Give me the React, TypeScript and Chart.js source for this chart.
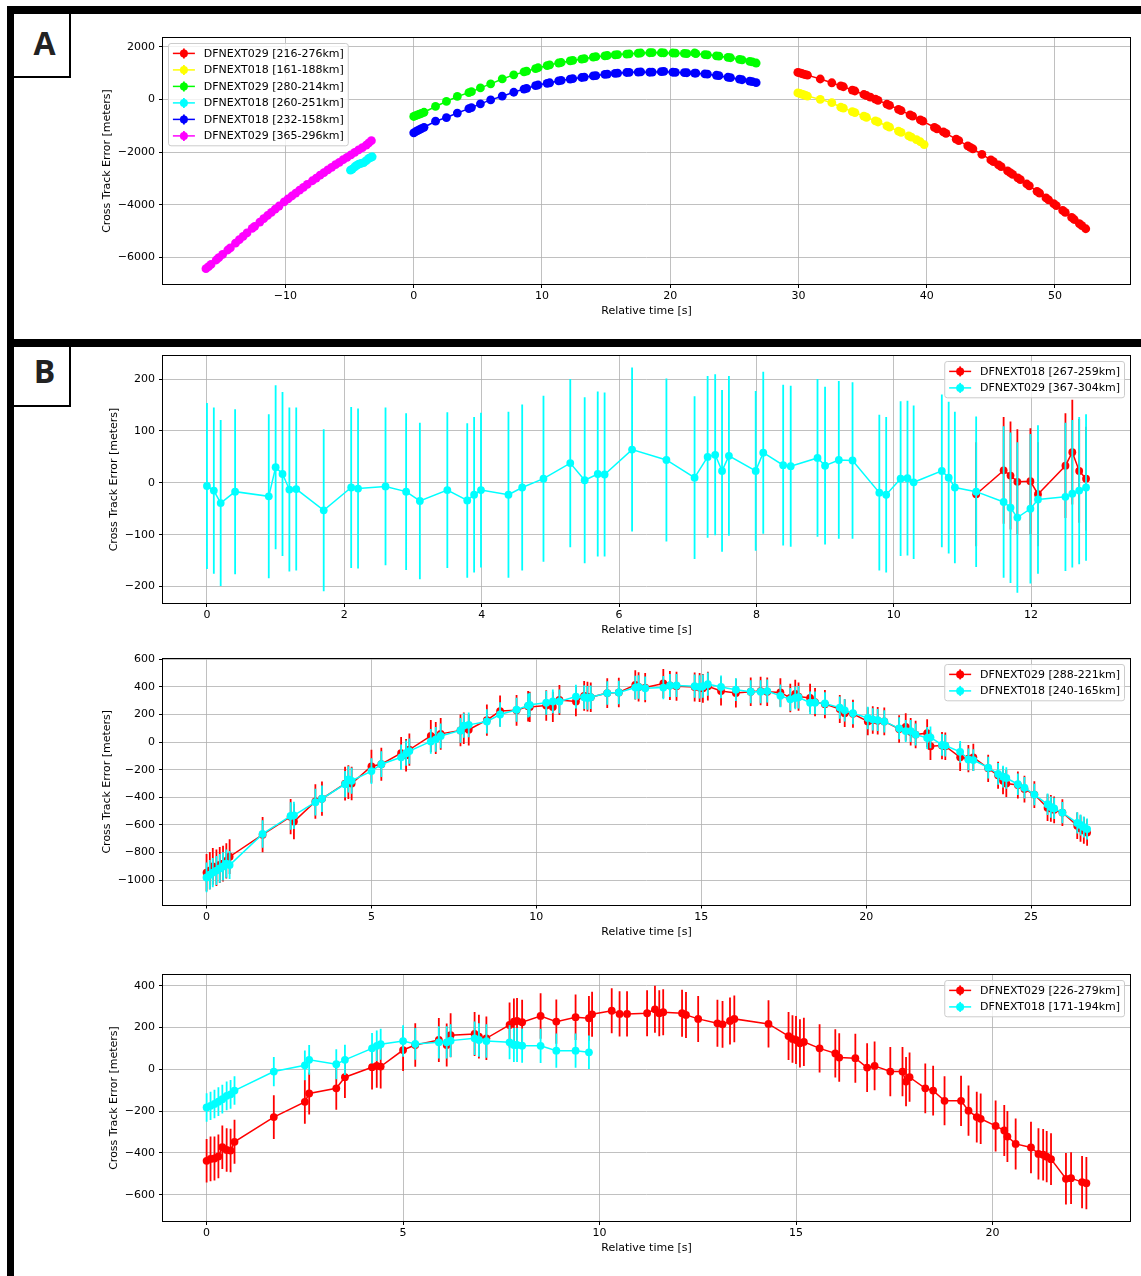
import React, { useEffect, useRef } from 'react';
import { Chart, registerables } from 'chart.js';

Chart.register(...registerables);

const FAMILY = '"DejaVu Sans", "Liberation Sans", sans-serif';
const FS = 11;

// ---------------- Panel A ----------------
const A_X_TICKS = [-10, 0, 10, 20, 30, 40, 50];
const A_Y_TICKS = [-6000, -4000, -2000, 0, 2000];

const A_RED_T = [29.95, 30.1, 30.25, 30.4, 30.55, 30.7, 31.7, 32.6, 33.3, 33.5, 34.2, 34.4, 35.1, 35.3, 35.6, 36.0, 36.2, 36.9, 37.1, 37.8, 38.0, 38.7, 38.9, 39.5, 39.7, 40.6, 40.8, 41.3, 41.5, 42.3, 42.5, 43.2, 43.4, 43.6, 44.3, 45.0, 45.2, 45.6, 45.8, 46.3, 46.5, 46.7, 47.1, 47.3, 47.8, 48.0, 48.6, 48.8, 49.3, 49.5, 49.9, 50.1, 50.6, 50.8, 51.3, 51.5, 51.9, 52.1, 52.4];
const A_RED_V = [1023, 1003, 982, 962, 941, 920, 773, 630, 513, 479, 354, 317, 185, 146, 87, 6, -35, -182, -225, -379, -424, -588, -636, -778, -830, -1066, -1117, -1238, -1291, -1510, -1565, -1764, -1822, -1880, -2088, -2302, -2364, -2490, -2553, -2714, -2779, -2845, -2978, -3045, -3214, -3283, -3492, -3563, -3741, -3813, -3959, -4033, -4219, -4294, -4485, -4562, -4717, -4795, -4913];

const A_YELLOW_T = [29.95, 30.1, 30.25, 30.4, 30.55, 30.7, 31.7, 32.6, 33.3, 33.5, 34.2, 34.4, 35.1, 35.3, 36.0, 36.2, 36.9, 37.1, 37.8, 38.0, 38.6, 38.8, 39.2, 39.5, 39.8];
const A_YELLOW_V = [245, 225, 200, 175, 150, 125, 0, -127, -300, -330, -465, -500, -640, -680, -820, -860, -1010, -1055, -1210, -1255, -1390, -1435, -1530, -1610, -1715];

const A_MID_T = [0.0, 0.15, 0.3, 0.45, 0.6, 0.8, 1.7, 2.55, 3.4, 4.3, 4.5, 5.2, 6.0, 6.9, 7.8, 8.6, 8.8, 9.5, 9.7, 10.4, 10.6, 11.3, 11.5, 12.2, 12.4, 13.1, 13.3, 14.0, 14.2, 14.9, 15.1, 15.7, 15.9, 16.6, 16.8, 17.5, 17.7, 18.4, 18.6, 19.3, 19.5, 20.2, 20.4, 21.1, 21.3, 21.9, 22.0, 22.7, 22.9, 23.6, 23.8, 24.5, 24.7, 25.4, 25.6, 26.2, 26.4, 26.7];
const A_GREEN_V = [-650, -620, -590, -560, -530, -490, -270, -80, 110, 255, 290, 435, 590, 775, 930, 1040, 1070, 1170, 1200, 1280, 1310, 1380, 1400, 1460, 1480, 1530, 1550, 1600, 1620, 1650, 1665, 1690, 1700, 1720, 1730, 1750, 1760, 1770, 1775, 1770, 1765, 1760, 1755, 1745, 1740, 1760, 1735, 1700, 1690, 1655, 1640, 1595, 1580, 1520, 1500, 1440, 1420, 1380];
const A_BLUE_V = [-1270, -1230, -1190, -1150, -1110, -1060, -830, -690, -520, -350, -310, -170, -20, 120, 270, 390, 420, 520, 545, 610, 630, 700, 720, 770, 785, 830, 845, 890, 900, 950, 960, 985, 995, 1020, 1025, 1035, 1040, 1030, 1035, 1050, 1060, 1030, 1025, 1015, 1010, 1000, 995, 965, 955, 915, 900, 840, 825, 765, 745, 690, 670, 635];

const A_CYAN_T = [-4.93, -4.8, -4.6, -4.45, -4.29, -4.1, -3.9, -3.7, -3.5, -3.35, -3.24];
const A_CYAN_V = [-2690, -2650, -2560, -2510, -2460, -2430, -2400, -2330, -2240, -2200, -2180];

const A_MAGENTA_T = [-16.2, -16.0, -15.8, -15.4, -15.2, -14.9, -14.5, -14.3, -13.9, -13.6, -13.3, -13.0, -12.6, -12.4, -12.0, -11.7, -11.4, -11.1, -10.8, -10.5, -10.1, -9.8, -9.5, -9.2, -8.9, -8.6, -8.3, -7.9, -7.6, -7.3, -7.0, -6.7, -6.4, -6.1, -5.8, -5.5, -5.2, -4.9, -4.6, -4.3, -4.0, -3.7, -3.5, -3.3];
const A_MAGENTA_V = [-6430, -6350, -6270, -6100, -6010, -5890, -5720, -5640, -5460, -5330, -5200, -5070, -4900, -4820, -4660, -4530, -4410, -4290, -4170, -4050, -3890, -3780, -3670, -3560, -3450, -3340, -3230, -3090, -2990, -2880, -2780, -2680, -2580, -2480, -2390, -2290, -2200, -2110, -2010, -1920, -1830, -1740, -1650, -1570];

// ---------------- Panel B1 ----------------
const B1_X_TICKS = [0, 2, 4, 6, 8, 10, 12];
const B1_Y_TICKS = [-200, -100, 0, 100, 200];

const B1_RED_T = [11.2, 11.6, 11.7, 11.8, 11.99, 12.1, 12.5, 12.6, 12.7, 12.8];
const B1_RED_V = [-22, 24, 14, 2, 3, -22, 33, 59, 23, 8];
const B1_RED_E = [100, 103, 104, 101, 102, 100, 101, 101, 100, 100];

const B1_CYAN_T = [0, 0.1, 0.2, 0.41, 0.9, 1.0, 1.1, 1.2, 1.3, 1.7, 2.1, 2.2, 2.6, 2.9, 3.1, 3.5, 3.79, 3.89, 3.99, 4.39, 4.59, 4.9, 5.29, 5.5, 5.69, 5.79, 6.19, 6.69, 7.1, 7.29, 7.4, 7.5, 7.6, 7.99, 8.1, 8.39, 8.5, 8.89, 9.0, 9.2, 9.4, 9.79, 9.89, 10.1, 10.2, 10.29, 10.7, 10.8, 10.89, 11.2, 11.6, 11.7, 11.8, 11.99, 12.1, 12.5, 12.6, 12.7, 12.8];
const B1_CYAN_V = [-6, -15, -39, -17, -26, 30, 17, -13, -12, -53, -9, -11, -7, -17, -35, -14, -34, -23, -14, -23, -9, 8, 38, 5, 17, 16, 64, 44, 10, 50, 54, 23, 52, 23, 58, 34, 32, 48, 33, 44, 43, -19, -23, 8, 9, 1, 23, 10, -9, -17, -37, -48, -67, -50, -32, -27, -21, -15, -9];
const B1_CYAN_E = [160, 160, 160, 159, 158, 158, 158, 158, 157, 156, 155, 154, 152, 151, 151, 150, 149, 150, 149, 160, 160, 160, 162, 160, 159, 158, 158, 157, 157, 156, 155, 156, 154, 154, 156, 155, 155, 152, 152, 152, 151, 150, 150, 149, 149, 148, 147, 146, 146, 145, 146, 145, 145, 144, 143, 143, 142, 142, 141];

// ---------------- Panel B2 ----------------
const B2_X_TICKS = [0, 5, 10, 15, 20, 25];
const B2_Y_TICKS = [-1000, -800, -600, -400, -200, 0, 200, 400, 600];

const B2_T = [0, 0.1, 0.19, 0.3, 0.4, 0.5, 0.6, 0.7, 1.7, 2.55, 2.65, 3.3, 3.5, 4.2, 4.3, 4.4, 5.0, 5.3, 5.9, 6.05, 6.15, 6.8, 6.95, 7.1, 7.7, 7.8, 7.95, 8.5, 8.9, 9.4, 9.75, 9.8, 10.3, 10.5, 10.7, 11.2, 11.45, 11.55, 11.65, 12.15, 12.5, 13.0, 13.1, 13.3, 13.85, 14.05, 14.25, 14.8, 14.95, 15.05, 15.2, 15.6, 16.05, 16.5, 16.8, 17.0, 17.4, 17.7, 17.85, 17.95, 18.3, 18.45, 18.75, 19.2, 19.35, 19.6, 20.05, 20.2, 20.35, 20.55, 21.0, 21.2, 21.35, 21.5, 21.85, 21.95, 22.3, 22.4, 22.85, 23.1, 23.25, 23.7, 24.0, 24.15, 24.25, 24.6, 24.8, 25.1, 25.5, 25.6, 25.7, 25.95, 26.4, 26.5, 26.6, 26.7];
const B2_RED_V = [
  -945, -930, -900, -910, -890, -880, -860, -830,
  -670, -540, -575, -430, -410, -300, -290, -300,
  -175, -160, -80, -95, -55, 45, 30, 60,
  85, 100, 90, 160, 225, 230, 260, 255,
  265, 255, 305, 295, 335, 330, 325, 355,
  360, 415, 400, 395, 425, 410, 405, 400,
  395, 390, 405, 370, 355, 365, 370, 365,
  360, 320, 350, 330, 320, 290, 275, 240,
  210, 205, 150, 160, 155, 150, 95, 110,
  75, 55, 65, -30, -25, -30, -110, -120,
  -110, -190, -240, -280, -300, -310, -340, -380,
  -475, -480, -490, -510, -605, -625, -640, -655,
];
const B2_RED_E = [
  135, 135, 133, 132, 130, 130, 128, 126,
  127, 128, 128, 125, 124, 122, 122, 121,
  120, 119, 118, 118, 117, 116, 116, 115,
  115, 114, 114, 113, 112, 111, 110, 110,
  110, 109, 109, 108, 108, 108, 107, 107,
  107, 106, 106, 106, 105, 105, 105, 105,
  105, 104, 104, 104, 104, 103, 103, 103,
  103, 103, 102, 102, 102, 102, 102, 101,
  101, 101, 101, 100, 100, 100, 100, 100,
  100, 100, 100, 99, 99, 99, 99, 99,
  99, 98, 98, 98, 98, 98, 97, 97,
  97, 97, 97, 97, 96, 96, 96, 96,
];
const B2_CYAN_V = [
  -980, -960, -945, -930, -915, -900, -880, -890,
  -665, -535, -530, -435, -410, -305, -270, -280,
  -210, -160, -110, -80, -65, 5, 20, 45,
  85, 120, 125, 150, 200, 235, 265, 270,
  285, 295, 295, 330, 325, 320, 325, 355,
  360, 395, 400, 390, 395, 410, 410, 405,
  400, 405, 420, 400, 380, 365, 365, 370,
  335, 310, 320, 325, 285, 285, 280, 250,
  230, 210, 175, 165, 160, 150, 100, 80,
  80, 55, 30, 35, -20, -25, -70, -125,
  -130, -185, -230, -250, -260, -305, -330, -380,
  -450, -470, -480, -510, -585, -600, -615, -630,
];
const B2_CYAN_E = [
  108, 107, 106, 105, 104, 103, 102, 101,
  100, 99, 99, 97, 96, 95, 95, 94,
  93, 93, 92, 92, 91, 90, 90, 90,
  89, 89, 89, 88, 88, 87, 87, 87,
  87, 86, 86, 86, 86, 86, 85, 85,
  85, 85, 85, 85, 84, 84, 84, 84,
  84, 84, 84, 83, 83, 83, 83, 83,
  83, 82, 82, 82, 82, 82, 82, 81,
  81, 81, 81, 81, 80, 80, 80, 80,
  80, 80, 80, 79, 79, 79, 79, 79,
  79, 79, 78, 78, 78, 78, 78, 78,
  77, 77, 77, 77, 77, 76, 76, 76,
];

// ---------------- Panel B3 ----------------
const B3_X_TICKS = [0, 5, 10, 15, 20];
const B3_Y_TICKS = [-600, -400, -200, 0, 200, 400];

const B3_RED_T = [0, 0.1, 0.2, 0.3, 0.4, 0.51, 0.61, 0.71, 1.71, 2.5, 2.61, 3.3, 3.52, 4.21, 4.33, 4.43, 5.0, 5.31, 5.91, 6.11, 6.21, 6.82, 6.93, 7.12, 7.71, 7.82, 7.9, 8.03, 8.5, 8.9, 9.39, 9.73, 9.81, 10.31, 10.51, 10.7, 11.21, 11.41, 11.52, 11.62, 12.1, 12.2, 12.51, 13.0, 13.13, 13.32, 13.43, 14.3, 14.81, 14.91, 15.0, 15.1, 15.2, 15.6, 16.0, 16.1, 16.51, 16.81, 17.0, 17.4, 17.71, 17.8, 17.89, 18.29, 18.49, 18.78, 19.2, 19.39, 19.6, 19.7, 20.08, 20.3, 20.38, 20.59, 20.98, 21.17, 21.29, 21.38, 21.49, 21.87, 22.0, 22.28, 22.39];
const B3_RED_V = [-438, -429, -427, -417, -373, -386, -389, -347, -229, -156, -116, -91, -38, 10, 16, 13, 92, 116, 140, 116, 163, 169, 156, 148, 212, 228, 231, 225, 255, 228, 249, 244, 263, 280, 265, 265, 268, 287, 268, 273, 268, 260, 241, 220, 215, 231, 241, 217, 159, 145, 140, 124, 131, 100, 76, 56, 53, 8, 16, -11, -11, -59, -38, -91, -102, -151, -151, -198, -229, -237, -271, -293, -322, -357, -374, -405, -409, -418, -430, -524, -521, -540, -545];
const B3_RED_E = [104, 107, 105, 105, 104, 104, 104, 105, 105, 105, 100, 103, 100, 107, 105, 105, 100, 104, 105, 103, 105, 105, 105, 104, 108, 110, 110, 108, 109, 106, 109, 107, 108, 108, 108, 108, 110, 112, 110, 110, 112, 110, 110, 112, 112, 112, 112, 113, 115, 114, 115, 115, 115, 115, 116, 116, 117, 117, 117, 118, 118, 118, 118, 119, 119, 117, 120, 120, 121, 121, 122, 122, 122, 122, 123, 123, 123, 123, 124, 123, 124, 125, 125];

const B3_CYAN_T = [0, 0.1, 0.2, 0.3, 0.4, 0.51, 0.61, 0.71, 1.71, 2.5, 2.61, 3.3, 3.52, 4.21, 4.33, 4.43, 5.0, 5.31, 5.91, 6.11, 6.21, 6.82, 6.93, 7.12, 7.71, 7.82, 7.9, 8.03, 8.5, 8.9, 9.39, 9.73];
const B3_CYAN_V = [-183, -175, -166, -155, -143, -127, -120, -102, -11, 19, 45, 24, 45, 100, 112, 120, 135, 121, 129, 129, 137, 148, 140, 135, 129, 116, 116, 113, 112, 89, 89, 81];
const B3_CYAN_E = [68, 68, 68, 69, 69, 69, 69, 68, 70, 71, 71, 72, 72, 73, 73, 74, 75, 76, 77, 77, 78, 80, 80, 80, 81, 81, 81, 82, 82, 82, 82, 80];

const RED = '#ff0000';
const YELLOW = '#ffff00';
const GREEN = '#00ff00';
const CYAN = '#00ffff';
const BLUE = '#0000ff';
const MAGENTA = '#ff00ff';

type Series = { label: string; color: string; t: number[]; v: number[]; err?: number[]; order: number };
type PanelSpec = {
  top: number; height: number; padT: number; padL: number; xH: number;
  xTitlePB: number; yTitlePT: number;
  xMin: number; xMax: number; yMin: number; yMax: number;
  xTicks: number[]; yTicks: number[];
  markerR: number; legendLoc: 'left' | 'right';
  series: Series[];
};

const PANELS: PanelSpec[] = [
  {
    top: 20, height: 310, padT: 18, padL: 95, xH: 46, xTitlePB: 12.3, yTitlePT: 5.8,
    xMin: -19.55, xMax: 55.85, yMin: -7011, yMax: 2330, xTicks: A_X_TICKS, yTicks: A_Y_TICKS,
    markerR: 4.4, legendLoc: 'left',
    series: [
      { label: 'DFNEXT029 [216-276km]', color: RED, t: A_RED_T, v: A_RED_V, order: 6 },
      { label: 'DFNEXT018 [161-188km]', color: YELLOW, t: A_YELLOW_T, v: A_YELLOW_V, order: 5 },
      { label: 'DFNEXT029 [280-214km]', color: GREEN, t: A_MID_T, v: A_GREEN_V, order: 4 },
      { label: 'DFNEXT018 [260-251km]', color: CYAN, t: A_CYAN_T, v: A_CYAN_V, order: 3 },
      { label: 'DFNEXT018 [232-158km]', color: BLUE, t: A_MID_T, v: A_BLUE_V, order: 2 },
      { label: 'DFNEXT029 [365-296km]', color: MAGENTA, t: A_MAGENTA_T, v: A_MAGENTA_V, order: 1 },
    ],
  },
  {
    top: 340, height: 300, padT: 16, padL: 95, xH: 37, xTitlePB: 3.3, yTitlePT: 12.8,
    xMin: -0.64, xMax: 13.44, yMin: -231.6, yMax: 244.4, xTicks: B1_X_TICKS, yTicks: B1_Y_TICKS,
    markerR: 3.9, legendLoc: 'right',
    series: [
      { label: 'DFNEXT018 [267-259km]', color: RED, t: B1_RED_T, v: B1_RED_V, err: B1_RED_E, order: 2 },
      { label: 'DFNEXT029 [367-304km]', color: CYAN, t: B1_CYAN_T, v: B1_CYAN_V, err: B1_CYAN_E, order: 1 },
    ],
  },
  {
    top: 645, height: 300, padT: 14, padL: 95, xH: 40.5, xTitlePB: 6.3, yTitlePT: 5.8,
    xMin: -1.32, xMax: 28.0, yMin: -1176, yMax: 602, xTicks: B2_X_TICKS, yTicks: B2_Y_TICKS,
    markerR: 3.9, legendLoc: 'right',
    series: [
      { label: 'DFNEXT029 [288-221km]', color: RED, t: B2_T, v: B2_RED_V, err: B2_RED_E, order: 2 },
      { label: 'DFNEXT018 [240-165km]', color: CYAN, t: B2_T, v: B2_CYAN_V, err: B2_CYAN_E, order: 1 },
    ],
  },
  {
    top: 960, height: 300, padT: 15, padL: 95, xH: 39, xTitlePB: 5.0, yTitlePT: 12.8,
    xMin: -1.11, xMax: 23.5, yMin: -726, yMax: 451, xTicks: B3_X_TICKS, yTicks: B3_Y_TICKS,
    markerR: 3.9, legendLoc: 'right',
    series: [
      { label: 'DFNEXT029 [226-279km]', color: RED, t: B3_RED_T, v: B3_RED_V, err: B3_RED_E, order: 2 },
      { label: 'DFNEXT018 [171-194km]', color: CYAN, t: B3_CYAN_T, v: B3_CYAN_V, err: B3_CYAN_E, order: 1 },
    ],
  },
];

const errorBarPlugin = {
  id: 'errorBars',
  beforeDatasetDraw(chart: any, args: any) {
    const ds = chart.data.datasets[args.index];
    const err: number[] | undefined = ds.errors;
    if (!err) return;
    const { ctx, chartArea, scales } = chart;
    ctx.save();
    ctx.beginPath();
    ctx.rect(chartArea.left, chartArea.top, chartArea.right - chartArea.left, chartArea.bottom - chartArea.top);
    ctx.clip();
    ctx.strokeStyle = ds.borderColor;
    ctx.lineWidth = 1.8;
    ctx.beginPath();
    ds.data.forEach((p: any, i: number) => {
      const px = scales.x.getPixelForValue(p.x);
      ctx.moveTo(px, scales.y.getPixelForValue(p.y - err[i]));
      ctx.lineTo(px, scales.y.getPixelForValue(p.y + err[i]));
    });
    ctx.stroke();
    ctx.restore();
  },
};

const framePlugin = {
  id: 'mplFrame',
  afterDatasetsDraw(chart: any) {
    const { ctx, chartArea } = chart;
    const l = Math.round(chartArea.left) - 0.5;
    const t = Math.round(chartArea.top) - 0.5;
    const r = Math.round(chartArea.right) + 0.5;
    const b = Math.round(chartArea.bottom) + 0.5;
    ctx.save();
    ctx.strokeStyle = '#000';
    ctx.lineWidth = 1;
    ctx.strokeRect(l, t, r - l, b - t);
    ctx.restore();
  },
};

const legendPlugin = {
  id: 'mplLegend',
  afterDraw(chart: any, _args: any, opts: any) {
    const { ctx, chartArea } = chart;
    const datasets = chart.data.datasets;
    const n = datasets.length;
    ctx.save();
    ctx.font = `${FS}px ${FAMILY}`;
    const textW = Math.max(...datasets.map((d: any) => ctx.measureText(d.label).width));
    const pad = 4.4;
    const handleLen = 2 * FS;
    const textPad = 0.8 * FS;
    const spacing = 0.5 * FS;
    const axPad = 0.5 * FS;
    const rowH = FS;
    const w = pad + handleLen + textPad + textW + pad;
    const h = 2 * pad + n * rowH + (n - 1) * spacing;
    const x0 = opts.loc === 'left' ? chartArea.left + axPad : chartArea.right - axPad - w;
    const y0 = chartArea.top + axPad;
    const rr = 2.5;
    ctx.beginPath();
    ctx.moveTo(x0 + rr, y0);
    ctx.lineTo(x0 + w - rr, y0);
    ctx.arcTo(x0 + w, y0, x0 + w, y0 + rr, rr);
    ctx.lineTo(x0 + w, y0 + h - rr);
    ctx.arcTo(x0 + w, y0 + h, x0 + w - rr, y0 + h, rr);
    ctx.lineTo(x0 + rr, y0 + h);
    ctx.arcTo(x0, y0 + h, x0, y0 + h - rr, rr);
    ctx.lineTo(x0, y0 + rr);
    ctx.arcTo(x0, y0, x0 + rr, y0, rr);
    ctx.closePath();
    ctx.fillStyle = 'rgba(255,255,255,0.8)';
    ctx.fill();
    ctx.strokeStyle = '#cccccc';
    ctx.lineWidth = 1;
    ctx.stroke();
    datasets.forEach((d: any, i: number) => {
      const cy = y0 + pad + rowH / 2 + i * (rowH + spacing);
      const hx = x0 + pad;
      const mx = hx + handleLen / 2;
      ctx.strokeStyle = d.borderColor;
      ctx.lineWidth = 1.5;
      ctx.beginPath();
      ctx.moveTo(hx, cy);
      ctx.lineTo(hx + handleLen, cy);
      ctx.stroke();
      ctx.lineWidth = 1.8;
      ctx.beginPath();
      ctx.moveTo(mx, cy - 5);
      ctx.lineTo(mx, cy + 5);
      ctx.stroke();
      ctx.fillStyle = d.borderColor;
      ctx.beginPath();
      ctx.arc(mx, cy, 4, 0, Math.PI * 2);
      ctx.fill();
      ctx.fillStyle = '#000';
      ctx.textBaseline = 'middle';
      ctx.textAlign = 'left';
      ctx.fillText(d.label, hx + handleLen + textPad, cy + 0.5);
    });
    ctx.restore();
  },
};

const fmt = (v: number) => (v < 0 ? '\u2212' + Math.abs(v) : String(v));

function buildConfig(p: PanelSpec): any {
  const font = { family: FAMILY, size: FS };
  const grid = {
    color: '#b0b0b0', lineWidth: 0.8, drawTicks: true, tickLength: 4, tickWidth: 1, tickColor: '#000',
  };
  return {
    type: 'scatter',
    data: {
      datasets: p.series.map((s) => ({
        label: s.label,
        data: s.t.map((x, i) => ({ x, y: s.v[i] })),
        errors: s.err,
        showLine: true,
        borderColor: s.color,
        backgroundColor: s.color,
        borderWidth: 1.5,
        pointRadius: p.markerR,
        pointHoverRadius: p.markerR,
        pointBorderWidth: 0,
        tension: 0,
        order: s.order,
      })),
    },
    options: {
      responsive: false,
      maintainAspectRatio: false,
      animation: false,
      devicePixelRatio: 1,
      events: [],
      layout: { padding: { left: p.padL, right: 11, top: p.padT, bottom: 0 } },
      plugins: {
        legend: { display: false },
        tooltip: { enabled: false },
        mplLegend: { loc: p.legendLoc },
      },
      scales: {
        x: {
          type: 'linear',
          position: 'bottom',
          min: p.xMin,
          max: p.xMax,
          afterBuildTicks: (ax: any) => { ax.ticks = p.xTicks.map((value) => ({ value })); },
          afterFit: (ax: any) => { ax.height = p.xH; },
          grid,
          border: { display: false },
          ticks: { font, color: '#000', padding: 2, autoSkip: false, maxRotation: 0, minRotation: 0, callback: fmt },
          title: { display: true, text: 'Relative time [s]', font, color: '#000', padding: { top: 0, bottom: p.xTitlePB } },
        },
        y: {
          type: 'linear',
          position: 'left',
          min: p.yMin,
          max: p.yMax,
          afterBuildTicks: (ax: any) => { ax.ticks = p.yTicks.map((value) => ({ value })); },
          afterFit: (ax: any) => { ax.width = 163 - p.padL; },
          grid,
          border: { display: false },
          ticks: { font, color: '#000', padding: 4, autoSkip: false, callback: fmt },
          title: { display: true, text: 'Cross Track Error [meters]', font, color: '#000', padding: { top: p.yTitlePT, bottom: 0 } },
        },
      },
    },
    plugins: [errorBarPlugin, framePlugin, legendPlugin],
  };
}

function ChartPanel({ spec }: { spec: PanelSpec }) {
  const ref = useRef<HTMLCanvasElement>(null);
  useEffect(() => {
    if (!ref.current) return;
    const chart = new Chart(ref.current, buildConfig(spec));
    return () => chart.destroy();
  }, [spec]);
  return (
    <canvas
      ref={ref}
      width={1141}
      height={spec.height}
      style={{ position: 'absolute', left: 0, top: spec.top, width: 1141, height: spec.height }}
    />
  );
}

const black = '#000';
const letterStyle: React.CSSProperties = {
  position: 'absolute', left: 24.5, width: 40, textAlign: 'center',
  fontFamily: '"Open Sans", "Noto Sans", sans-serif', fontWeight: 700, fontSize: 32, lineHeight: '32px', color: '#222',
};

export default function App() {
  return (
    <div style={{ position: 'absolute', left: 0, top: 0, width: 1141, height: 1276, background: '#fff', overflow: 'hidden' }}>
      {PANELS.map((p, i) => (
        <ChartPanel key={i} spec={p} />
      ))}
      <div style={{ position: 'absolute', left: 7, top: 6, width: 1134, height: 8, background: black }} />
      <div style={{ position: 'absolute', left: 7, top: 6, width: 7, height: 1270, background: black }} />
      <div style={{ position: 'absolute', left: 7, top: 339, width: 1134, height: 8, background: black }} />
      <div style={{ position: 'absolute', left: 14, top: 14, width: 57, height: 64, boxSizing: 'border-box', borderRight: '2px solid #000', borderBottom: '2px solid #000', background: '#fff' }} />
      <div style={{ position: 'absolute', left: 14, top: 347, width: 57, height: 60, boxSizing: 'border-box', borderRight: '2px solid #000', borderBottom: '2px solid #000', background: '#fff' }} />
      <div style={{ ...letterStyle, top: 26.5 }}>A</div>
      <div style={{ ...letterStyle, top: 355 }}>B</div>
    </div>
  );
}
